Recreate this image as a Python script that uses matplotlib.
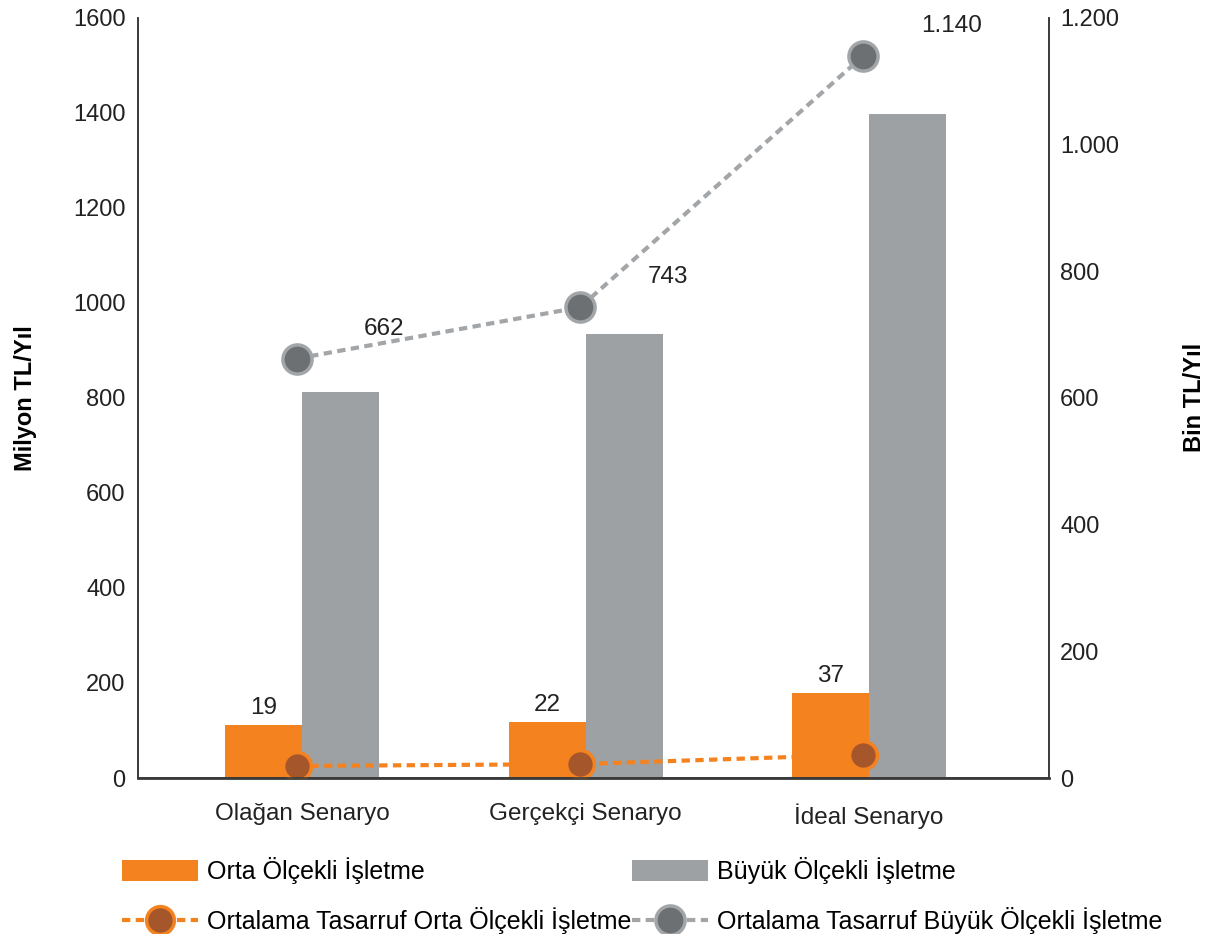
import numpy as np
import matplotlib.pyplot as plt
from matplotlib.ticker import FuncFormatter

# senaryo verileri
senaryolar = ["Olağan Senaryo", "Gerçekçi Senaryo", "İdeal Senaryo"]
orta_toplam = [112, 118, 179]        # Milyon TL/Yıl
buyuk_toplam = [812, 935, 1397]      # Milyon TL/Yıl
orta_ortalama = [19, 22, 37]         # Bin TL/Yıl
buyuk_ortalama = [662, 743, 1140]    # Bin TL/Yıl

turuncu = "#f4821f"
kahve = "#a5562a"
gri_bar = "#9da1a4"
gri_nokta = "#6d7072"
gri_cizgi = "#a3a6a9"

plt.rcParams['font.family'] = ['Liberation Sans', 'DejaVu Sans']

def binlik(v, pos):
    return "{:,.0f}".format(v).replace(",", ".")

fig = plt.figure(figsize=(12.1, 9.34), dpi=100)
ax = fig.add_axes([0.114, 0.167, 0.753, 0.814])
ax2 = ax.twinx()

x = np.arange(len(senaryolar))
w = 0.272

b1 = ax.bar(x - w / 2, orta_toplam, w, color=turuncu, label="Orta Ölçekli İşletme", zorder=2)
b2 = ax.bar(x + w / 2, buyuk_toplam, w, color=gri_bar, label="Büyük Ölçekli İşletme", zorder=2)

kesik = (0, (2.0, 1.3))
l1, = ax2.plot(x - 0.02, orta_ortalama, linestyle=kesik, color=turuncu, lw=3,
               marker='o', ms=20, mfc=kahve, mec=turuncu, mew=2.5,
               label="Ortalama Tasarruf Orta Ölçekli İşletme")
l2, = ax2.plot(x - 0.02, buyuk_ortalama, linestyle=kesik, color=gri_cizgi, lw=3,
               marker='o', ms=21, mfc=gri_nokta, mec=gri_cizgi, mew=2.5,
               label="Ortalama Tasarruf Büyük Ölçekli İşletme")

# orta ölçekli değer etiketleri turuncu barların üstünde
for i in range(len(x)):
    ax.annotate(str(orta_ortalama[i]), (x[i] - w / 2, orta_toplam[i]),
                xytext=(0, 6), textcoords='offset pixels',
                ha='center', va='bottom', fontsize=17.5, color="#222222")

# büyük ölçekli değer etiketleri noktaların sağ üstünde
for i in range(len(x)):
    ax2.annotate(binlik(buyuk_ortalama[i], None), (x[i], buyuk_ortalama[i]),
                 xytext=(82, 30), textcoords='offset pixels',
                 ha='center', va='center', fontsize=17.5, color="#222222")

ax.set_xlim(-0.58, 2.635)
ax.set_ylim(0, 1600)
ax2.set_ylim(0, 1200)
ax.set_yticks(np.arange(0, 1601, 200))
ax2.set_yticks(np.arange(0, 1201, 200))
ax2.yaxis.set_major_formatter(FuncFormatter(binlik))
ax.set_xticks(x)
ax.set_xticklabels(senaryolar)

for a in (ax, ax2):
    a.spines['top'].set_visible(False)
    for s in ('left', 'right', 'bottom'):
        a.spines[s].set_color("#3a3a3a")
        a.spines[s].set_linewidth(1.2)
    a.tick_params(length=0, labelsize=17, colors="#222222")
ax.spines['bottom'].set_linewidth(2)
ax.tick_params(axis='y', pad=9)
ax2.tick_params(axis='y', pad=8)
ax.tick_params(axis='x', pad=18, labelsize=17.5)

ax.set_ylabel("Milyon TL/Yıl", fontsize=17, fontweight='bold', labelpad=0)
ax.yaxis.set_label_coords(-0.111, 0.5)
ax2.set_ylabel("Bin TL/Yıl", fontsize=17, fontweight='bold')
ax2.yaxis.set_label_coords(1.147, 0.5)

fig.legend([b1, l1, b2, l2],
           [b1.get_label(), l1.get_label(), b2.get_label(), l2.get_label()],
           ncol=2, loc='upper left', bbox_to_anchor=(0.101, 0.082),
           frameon=False, fontsize=18, handlelength=3.05, handleheight=0.9,
           handletextpad=0.35, columnspacing=0.0, labelspacing=0.92,
           borderaxespad=0, borderpad=0)

fig.savefig("out.png", dpi=100)
